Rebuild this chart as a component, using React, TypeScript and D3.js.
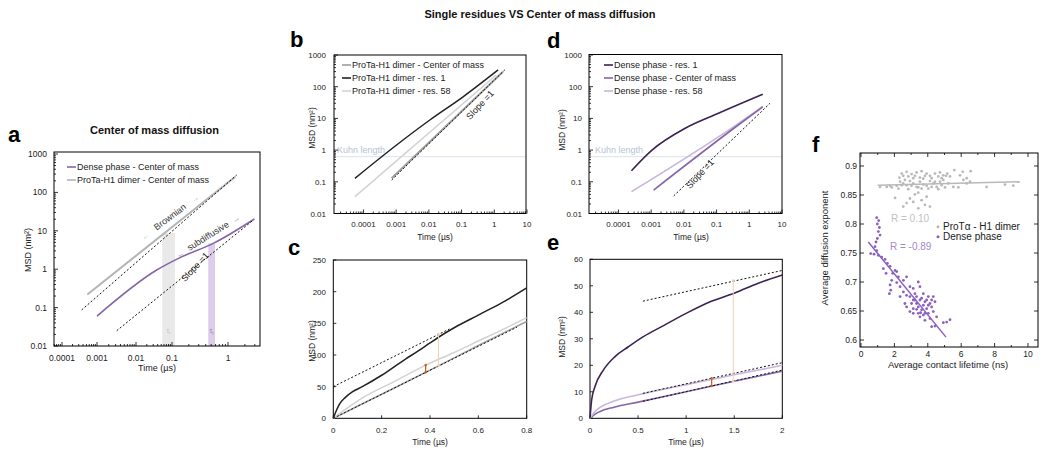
import React from "react";
import * as d3 from "d3";

const FONT = "'Liberation Sans', Arial, Helvetica, sans-serif";

// ---------- shared tick labels
const logTimeTicks = [0.0001, 0.001, 0.01, 0.1, 1, 10];
const logTimeLabels = ["0.0001", "0.001", "0.01", "0.1", "1", "10"];
const logMsdTicks = [0.01, 0.1, 1, 10, 100, 1000];
const logMsdLabels = ["0.01", "0.1", "1", "10", "100", "1000"];
const kuhnLength = 0.62;

// ---------- panel a
const aTimeTicks = [0.0001, 0.001, 0.01, 0.1, 1];
const aTimeLabels = ["0.0001", "0.001", "0.01", "0.1", "1"];
const aDenseComT = [0.001, 0.0376, 0.139, 0.546, 2.95];
const aDenseComMSD = [0.06, 0.95, 2.0, 4.7, 20.3];
const aDimerComT = [0.00053, 1.35];
const aDimerComMSD = [0.22, 257];
const aBrownT = [0.000365, 1.43];
const aBrownMSD = [0.087, 284];
const aSlopeT = [0.0032, 2.83];
const aSlopeMSD = [0.025, 19.1];
const aTauDimer = [0.0537, 0.113, 8.8];
const aTauDense = [0.444, 0.586, 4.7];

// ---------- panel b
const bComT = [0.00073, 1.84];
const bComMSD = [0.129, 297];
const bRes1T = [0.000055, 0.00103, 0.0107, 0.111, 1.31];
const bRes1MSD = [0.129, 1.45, 8.9, 48, 339];
const bRes58T = [0.000055, 1.15];
const bRes58MSD = [0.034, 234];
const bSlopeT = [0.00073, 2.34];
const bSlopeMSD = [0.114, 380];

// ---------- panel d
const dRes1T = [0.00025, 0.00106, 0.011, 0.114, 2.58];
const dRes1MSD = [0.224, 1.0, 4.9, 14.5, 57.5];
const dComT = [0.00119, 0.47, 2.58];
const dComMSD = [0.055, 6.3, 23];
const dRes58T = [0.00025, 0.47, 2.58];
const dRes58MSD = [0.049, 7, 24];
const dSlopeT = [0.0049, 4.3];
const dSlopeMSD = [0.036, 30];

// ---------- panel c
const cTimeTicks = [0, 0.2, 0.4, 0.6, 0.8];
const cMsdTicks = [0, 50, 100, 150, 200, 250];
const cRes1T = [0, 0.01, 0.025, 0.05, 0.08, 0.12, 0.2, 0.3, 0.35, 0.4, 0.435, 0.5, 0.6, 0.7, 0.8];
const cRes1MSD = [0, 10, 22, 33, 42, 50, 68, 94, 106, 119, 128, 143, 163, 183, 206];
const cRes58T = [0, 0.05, 0.124, 0.262, 0.382, 0.5, 0.6, 0.7, 0.8];
const cRes58MSD = [0, 14, 33, 60, 84, 104, 122, 140, 159];
const cComT = [0, 0.2, 0.4, 0.6, 0.8];
const cComMSD = [0, 38, 76, 115, 153];
const cDashUpperT = [0, 0.48];
const cDashUpperMSD = [50, 141];
const cDashLowerT = [0, 0.76];
const cDashLowerMSD = [0, 144];
const cMarkDark = [0.382, 72.6, 84];
const cMarkLight = [0.435, 83, 133];

// ---------- panel e
const eTimeTicks = [0, 0.5, 1, 1.5, 2];
const eMsdTicks = [0, 10, 20, 30, 40, 50, 60];
const eRes1T = [0, 0.017, 0.052, 0.139, 0.26, 0.4, 0.555, 0.745, 1.0, 1.25, 1.5, 1.75, 2.0];
const eRes1MSD = [0, 6.9, 12, 18.2, 23.3, 27, 30.8, 34.6, 39.6, 44, 47.2, 51, 54.1];
const eRes58T = [0, 0.05, 0.1, 0.25, 0.5, 1, 1.5, 2];
const eRes58MSD = [0, 2.5, 4, 6.5, 8.9, 12.7, 16.4, 20];
const eComT = [0, 0.05, 0.1, 0.25, 0.5, 1, 1.5, 2];
const eComMSD = [0, 1.5, 2.5, 4.2, 6.1, 10, 14, 17.8];
const eDashUpperT = [0.55, 2.0];
const eDashUpperMSD = [44.2, 55.8];
const eDashMidT = [0.55, 2.0];
const eDashMidMSD = [9.4, 21];
const eDashLowerT = [0.55, 2.0];
const eDashLowerMSD = [6.4, 18.2];
const eMarkDark = [1.265, 12.2, 15.1];
const eMarkLight = [1.49, 14, 52];

// ---------- panel f
const fXTicks = [0, 2, 4, 6, 8, 10];
const fYTicks = [0.6, 0.65, 0.7, 0.75, 0.8, 0.85, 0.9];
const fYLabels = ["0.6", "0.65", "0.7", "0.75", "0.8", "0.85", "0.9"];
const fDimerPoints = [
  [1.14, 0.864], [1.54, 0.864], [1.84, 0.863], [2.14, 0.866], [2.34, 0.873], [2.44, 0.887], [2.53, 0.87], [2.73, 0.89],
  [2.73, 0.867], [2.83, 0.882], [2.93, 0.874], [3.03, 0.886], [3.13, 0.87], [3.13, 0.879], [3.33, 0.889], [3.33, 0.864],
  [3.53, 0.873], [3.53, 0.88], [3.63, 0.891], [3.73, 0.868], [3.83, 0.883], [3.93, 0.887], [3.93, 0.866], [4.13, 0.883],
  [4.13, 0.874], [4.23, 0.879], [4.33, 0.87], [4.43, 0.887], [4.53, 0.864], [4.63, 0.882], [4.73, 0.889], [4.73, 0.873],
  [4.83, 0.879], [4.93, 0.884], [4.93, 0.876], [5.09, 0.883], [5.17, 0.887], [5.23, 0.87], [5.53, 0.864], [5.59, 0.893],
  [5.83, 0.863], [6.09, 0.89], [6.13, 0.876], [6.33, 0.879], [6.53, 0.873], [6.57, 0.891], [7.52, 0.864], [8.62, 0.868],
  [9.12, 0.866], [2.24, 0.861], [2.83, 0.86], [3.43, 0.863], [4.03, 0.861], [4.63, 0.86], [5.03, 0.863], [2.04, 0.845],
  [2.93, 0.844], [3.23, 0.851], [3.43, 0.854], [3.13, 0.838], [3.63, 0.841], [3.93, 0.847], [2.53, 0.83], [3.43, 0.827],
  [3.83, 0.833], [4.13, 0.83], [2.73, 0.836], [1.74, 0.866], [2.53, 0.883], [3.23, 0.883], [3.73, 0.878], [4.43, 0.873],
  [2.63, 0.876], [2.3, 0.88], [5.33, 0.882], [5.93, 0.884], [3.63, 0.861], [3.03, 0.866], [4.23, 0.864], [4.83, 0.867],
  [6.33, 0.87], [2.44, 0.867],
];
const fDensePoints = [
  [0.94, 0.811], [1.06, 0.806], [0.98, 0.8], [1.1, 0.794], [1.04, 0.787], [1.14, 0.781], [0.98, 0.775], [0.9, 0.769],
  [0.84, 0.761], [0.94, 0.754], [0.58, 0.749], [0.78, 0.748], [1.04, 0.746], [1.24, 0.743], [1.44, 0.739], [1.58, 0.732],
  [1.74, 0.727], [2.04, 0.72], [1.9, 0.715], [2.14, 0.718], [1.84, 0.703], [1.74, 0.695], [1.78, 0.686], [1.7, 0.68],
  [2.14, 0.699], [2.34, 0.692], [2.54, 0.683], [2.34, 0.675], [2.73, 0.677], [2.93, 0.675], [3.13, 0.689], [3.23, 0.669],
  [3.33, 0.663], [3.43, 0.657], [3.53, 0.669], [3.63, 0.652], [3.73, 0.66], [3.83, 0.666], [3.93, 0.654], [4.03, 0.646],
  [4.13, 0.663], [4.23, 0.657], [4.33, 0.649], [4.43, 0.666], [3.13, 0.654], [3.03, 0.663], [3.43, 0.646], [3.53, 0.64],
  [3.73, 0.643], [3.83, 0.634], [3.33, 0.675], [3.63, 0.672], [3.93, 0.669], [4.13, 0.637], [4.53, 0.64], [4.23, 0.623],
  [4.43, 0.624], [4.93, 0.63], [5.13, 0.631], [5.33, 0.635], [2.73, 0.657], [2.93, 0.692], [3.43, 0.7], [3.53, 0.692],
  [2.24, 0.709], [2.54, 0.703], [2.73, 0.709], [1.5, 0.715], [1.34, 0.723], [4.03, 0.675], [4.33, 0.675], [3.23, 0.68],
  [3.83, 0.646], [3.13, 0.646], [2.93, 0.649], [2.63, 0.663], [3.33, 0.653], [3.57, 0.647], [4.03, 0.66], [3.73, 0.68],
  [4.23, 0.669], [3.13, 0.669],
];
const fDimerFit = [[1.0, 0.867], [9.5, 0.873]];
const fDenseFit = [[0.44, 0.769], [5.09, 0.605]];

// ---------- colours
const COL = {
  comGray: "#9d9d9d",
  res1Black: "#222222",
  res58Gray: "#d2d2d2",
  aGray: "#b4b4b4",
  purple: "#8566a8",
  darkPurple: "#3a2353",
  lightPurple: "#c8b6dc",
  kuhn: "#dce3eb",
  kuhnText: "#b5c3d6",
  orangeDark: "#c5612b",
  orangeLight: "#f1cfb4",
  sGray: "#b9b9b9",
  sPurple: "#8a60c0",
  tauGray: "#e9e9e9",
  tauPurple: "#ddcdeb",
};

// ---------- scales
const xALin = d3.scaleLinear().domain([-4.23, -4, -3, -2, -1, 0, 0.57]).range([54, 62, 97, 136, 172, 228, 260]);
const xA = (t: number) => xALin(Math.log10(t));
const yA = d3.scaleLog().domain([0.01, 1000]).range([346, 154]);

const xB = d3.scaleLog().domain([Math.pow(10, -4.9), 10]).range([334, 527]);
const yB = d3.scaleLog().domain([0.01, 1000]).range([213.5, 55]);
const xD = d3.scaleLog().domain([Math.pow(10, -4.9), 10]).range([589, 782]);
const yD = d3.scaleLog().domain([0.01, 1000]).range([213.5, 55]);

const xC = d3.scaleLinear().domain([0, 0.8]).range([333.3, 526.7]);
const yC = d3.scaleLinear().domain([0, 250]).range([418.3, 260]);
const xE = d3.scaleLinear().domain([0, 2]).range([590, 782.3]);
const yE = d3.scaleLinear().domain([0, 60]).range([418.3, 259.3]);

const xF = d3.scaleLinear().domain([0, 10.6]).range([861, 1038]);
const yF = d3.scaleLinear().domain([0.588, 0.9224]).range([347, 153]);

type F = (v: number) => number;

function path(xs: number[], ys: number[], sx: F, sy: F, smooth = true) {
  return (
    d3
      .line<number>()
      .x((_, i) => sx(xs[i]))
      .y((_, i) => sy(ys[i]))
      .curve(smooth ? d3.curveMonotoneX : d3.curveLinear)(xs.map((_, i) => i)) || ""
  );
}

function minorLog(lo: number, hi: number) {
  const out: number[] = [];
  for (let k = -6; k <= 4; k++) for (let m = 2; m <= 9; m++) {
    const v = m * Math.pow(10, k);
    if (v >= lo && v <= hi) out.push(v);
  }
  return out;
}

const Curve = ({ xs, ys, sx, sy, color, w = 1.5, smooth = true }: any) => (
  <path d={path(xs, ys, sx, sy, smooth)} fill="none" stroke={color} strokeWidth={w} strokeLinejoin="round" />
);

const Dashed = ({ xs, ys, sx, sy }: any) => (
  <path d={path(xs, ys, sx, sy, false)} fill="none" stroke="#111" strokeWidth={1} strokeDasharray="2,2" />
);

function Frame({ x0, x1, y0, y1 }: any) {
  return <rect x={x0} y={y0} width={x1 - x0} height={y1 - y0} fill="none" stroke="#000" strokeWidth={1} />;
}

function YTitle({ x, y, text, size = 8.5 }: any) {
  return (
    <text transform={`translate(${x},${y}) rotate(-90)`} textAnchor="middle" dy="0.35em" fontSize={size} fill="#222">
      {text}
    </text>
  );
}

function LogPanel({ sx, sy, x0, x1, y0, y1, xTicks, xLabels, xLabelY, yLabelX, titleY, xTitleX, yTitleX, yTitleY, lo, hi }: any) {
  const minX = minorLog(lo, hi);
  const minY = minorLog(0.01, 1000);
  return (
    <g>
      <Frame x0={x0} x1={x1} y0={y0} y1={y1} />
      {minX.map((v: number, i: number) => (
        <line key={"mx" + i} x1={sx(v)} x2={sx(v)} y1={y1} y2={y1 - 2} stroke="#000" strokeWidth={0.8} />
      ))}
      {xTicks.map((v: number, i: number) => (
        <line key={"Mx" + i} x1={sx(v)} x2={sx(v)} y1={y1} y2={y1 - 4} stroke="#000" strokeWidth={0.8} />
      ))}
      {minY.map((v: number, i: number) => (
        <line key={"my" + i} x1={x0} x2={x0 + 2} y1={sy(v)} y2={sy(v)} stroke="#000" strokeWidth={0.8} />
      ))}
      {logMsdTicks.map((v, i) => (
        <line key={"My" + i} x1={x0} x2={x0 + 4} y1={sy(v)} y2={sy(v)} stroke="#000" strokeWidth={0.8} />
      ))}
      {xTicks.map((v: number, i: number) => (
        <text key={"lx" + i} x={sx(v)} y={xLabelY} textAnchor="middle" fontSize={8} fill="#222">{xLabels[i]}</text>
      ))}
      {logMsdTicks.map((v, i) => (
        <text key={"ly" + i} x={yLabelX} y={sy(v) + 3} textAnchor="end" fontSize={8} fill="#222">{logMsdLabels[i]}</text>
      ))}
      <text x={xTitleX} y={titleY} textAnchor="middle" fontSize={8.5} fill="#222">Time (µs)</text>
      <YTitle x={yTitleX} y={yTitleY} text="MSD (nm²)" />
    </g>
  );
}

function LinPanel({ sx, sy, x0, x1, y0, y1, xTicks, yTicks, xLabelY, yLabelX, titleY, xTitleX, yTitleX, yTitleY }: any) {
  return (
    <g>
      <Frame x0={x0} x1={x1} y0={y0} y1={y1} />
      {xTicks.map((v: number, i: number) => (
        <g key={"x" + i}>
          <line x1={sx(v)} x2={sx(v)} y1={y1} y2={y1 - 3} stroke="#000" strokeWidth={0.8} />
          <text x={sx(v)} y={xLabelY} textAnchor="middle" fontSize={8} fill="#222">{String(v)}</text>
        </g>
      ))}
      {yTicks.map((v: number, i: number) => (
        <g key={"y" + i}>
          <line x1={x0} x2={x0 + 3} y1={sy(v)} y2={sy(v)} stroke="#000" strokeWidth={0.8} />
          <text x={yLabelX} y={sy(v) + 3} textAnchor="end" fontSize={8} fill="#222">{String(v)}</text>
        </g>
      ))}
      <text x={xTitleX} y={titleY} textAnchor="middle" fontSize={8.5} fill="#222">Time (µs)</text>
      <YTitle x={yTitleX} y={yTitleY} text="MSD (nm²)" />
    </g>
  );
}

function Legend({ x, ys, items }: any) {
  return (
    <g>
      {items.map((it: any, i: number) => (
        <g key={i}>
          <line x1={x} x2={x + 9} y1={ys[i]} y2={ys[i]} stroke={it.color} strokeWidth={1.6} />
          <text x={x + 10} y={ys[i] + 3} fontSize={9} fill="#222">{it.label}</text>
        </g>
      ))}
    </g>
  );
}

function Marker({ sx, sy, m, color, w }: any) {
  const x = sx(m[0]);
  return (
    <g>
      <line x1={x} x2={x} y1={sy(m[1])} y2={sy(m[2])} stroke={color} strokeWidth={w} />
      <circle cx={x} cy={sy(m[1])} r={1.3} fill={color} />
      <circle cx={x} cy={sy(m[2])} r={1.3} fill={color} />
    </g>
  );
}

function PanelA() {
  const minX: number[] = [];
  for (let k = -5; k <= 0; k++) for (let m = 2; m <= 9; m++) {
    const v = m * Math.pow(10, k);
    const l = Math.log10(v);
    if (l >= -4.23 && l <= 0.57) minX.push(v);
  }
  const minY = minorLog(0.01, 1000);
  return (
    <g>
      <text x={154.5} y={134} textAnchor="middle" fontSize={11} fontWeight="bold" fill="#111">Center of mass diffusion</text>
      <rect x={xA(aTauDimer[0])} y={yA(aTauDimer[2])} width={xA(aTauDimer[1]) - xA(aTauDimer[0])} height={yA(0.01) - yA(aTauDimer[2])} fill={COL.tauGray} />
      <rect x={xA(aTauDense[0])} y={yA(aTauDense[2])} width={xA(aTauDense[1]) - xA(aTauDense[0])} height={yA(0.01) - yA(aTauDense[2])} fill={COL.tauPurple} />
      <text x={(xA(aTauDimer[0]) + xA(aTauDimer[1])) / 2} y={333} textAnchor="middle" fontSize={7} fill="#c4c4c4">τ<tspan fontSize={5} dy={1.5}>r</tspan></text>
      <text x={(xA(aTauDense[0]) + xA(aTauDense[1])) / 2} y={333} textAnchor="middle" fontSize={7} fill="#9b80bd">τ<tspan fontSize={5} dy={1.5}>r</tspan></text>
      <Frame x0={54} x1={260} y0={152} y1={346} />
      {minX.map((v, i) => (
        <line key={"mx" + i} x1={xA(v)} x2={xA(v)} y1={346} y2={344} stroke="#000" strokeWidth={0.8} />
      ))}
      {aTimeTicks.map((v, i) => (
        <line key={"Mx" + i} x1={xA(v)} x2={xA(v)} y1={346} y2={342} stroke="#000" strokeWidth={0.8} />
      ))}
      {minY.map((v, i) => (
        <line key={"my" + i} x1={54} x2={56} y1={yA(v)} y2={yA(v)} stroke="#000" strokeWidth={0.8} />
      ))}
      {logMsdTicks.map((v, i) => (
        <line key={"My" + i} x1={54} x2={58} y1={yA(v)} y2={yA(v)} stroke="#000" strokeWidth={0.8} />
      ))}
      {aTimeTicks.map((v, i) => (
        <text key={"lx" + i} x={xA(v)} y={361} textAnchor="middle" fontSize={8.5} fill="#222">{aTimeLabels[i]}</text>
      ))}
      {logMsdTicks.map((v, i) => (
        <text key={"ly" + i} x={47} y={yA(v) + 3} textAnchor="end" fontSize={8.5} fill="#222">{logMsdLabels[i]}</text>
      ))}
      <text x={157} y={371} textAnchor="middle" fontSize={9} fill="#222">Time (µs)</text>
      <YTitle x={28} y={250} text="MSD (nm²)" size={9} />

      <Curve xs={aDimerComT} ys={aDimerComMSD} sx={xA} sy={yA} color={COL.aGray} w={2} smooth={false} />
      <Dashed xs={aBrownT} ys={aBrownMSD} sx={xA} sy={yA} />
      <Curve xs={aDenseComT} ys={aDenseComMSD} sx={xA} sy={yA} color={COL.purple} w={1.6} />
      <Dashed xs={aSlopeT} ys={aSlopeMSD} sx={xA} sy={yA} />

      <g transform="translate(170,217) rotate(-37)">
        <text x={0} y={3} textAnchor="middle" fontSize={9} fill="#333">Brownian</text>
        <text x={-31} y={3} textAnchor="middle" fontSize={8} fill="#bdbdbd">←</text>
        <text x={31} y={3} textAnchor="middle" fontSize={8} fill="#bdbdbd">→</text>
      </g>
      <g transform="translate(208,236) rotate(-32)">
        <text x={0} y={3} textAnchor="middle" fontSize={9} fill="#333">subdiffusive</text>
        <text x={-33} y={3} textAnchor="middle" fontSize={8} fill="#9a7fc0">←</text>
        <text x={33} y={3} textAnchor="middle" fontSize={8} fill="#9a7fc0">→</text>
      </g>
      <text transform="translate(195,267) rotate(-47)" x={0} y={3} textAnchor="middle" fontSize={9} fill="#222">Slope =1</text>

      <Legend x={67} ys={[167, 180]} items={[
        { color: COL.purple, label: "Dense phase - Center of mass" },
        { color: COL.aGray, label: "ProTa-H1 dimer - Center of mass" },
      ]} />
    </g>
  );
}

function PanelB() {
  return (
    <g>
      <line x1={334} x2={526} y1={yB(kuhnLength)} y2={yB(kuhnLength)} stroke={COL.kuhn} strokeWidth={1} />
      <text x={337} y={yB(kuhnLength) - 4} fontSize={9} fill={COL.kuhnText}>Kuhn length</text>
      <LogPanel sx={xB} sy={yB} x0={334} x1={526} y0={55} y1={213.5} xTicks={logTimeTicks} xLabels={logTimeLabels}
        xLabelY={227} yLabelX={326} titleY={240} xTitleX={435} yTitleX={312} yTitleY={128} lo={Math.pow(10, -4.9)} hi={10} />
      <Curve xs={bRes58T} ys={bRes58MSD} sx={xB} sy={yB} color={COL.res58Gray} w={1.5} />
      <Curve xs={bComT} ys={bComMSD} sx={xB} sy={yB} color={COL.comGray} w={2} />
      <Dashed xs={bSlopeT} ys={bSlopeMSD} sx={xB} sy={yB} />
      <Curve xs={bRes1T} ys={bRes1MSD} sx={xB} sy={yB} color={COL.res1Black} w={1.5} />
      <text transform="translate(480,105) rotate(-47)" x={0} y={3} textAnchor="middle" fontSize={9} fill="#222">Slope =1</text>
      <Legend x={342} ys={[65, 78, 91]} items={[
        { color: COL.comGray, label: "ProTa-H1 dimer - Center of mass" },
        { color: COL.res1Black, label: "ProTa-H1 dimer - res. 1" },
        { color: COL.res58Gray, label: "ProTa-H1 dimer - res. 58" },
      ]} />
    </g>
  );
}

function PanelD() {
  return (
    <g>
      <line x1={589} x2={782} y1={yD(kuhnLength)} y2={yD(kuhnLength)} stroke={COL.kuhn} strokeWidth={1} />
      <text x={595} y={yD(kuhnLength) - 4} fontSize={9} fill={COL.kuhnText}>Kuhn length</text>
      <LogPanel sx={xD} sy={yD} x0={589} x1={782} y0={54.5} y1={213.5} xTicks={logTimeTicks} xLabels={logTimeLabels}
        xLabelY={227} yLabelX={582} titleY={240} xTitleX={691} yTitleX={562} yTitleY={130} lo={Math.pow(10, -4.9)} hi={10} />
      <Dashed xs={dSlopeT} ys={dSlopeMSD} sx={xD} sy={yD} />
      <Curve xs={dRes58T} ys={dRes58MSD} sx={xD} sy={yD} color={COL.lightPurple} w={1.6} />
      <Curve xs={dComT} ys={dComMSD} sx={xD} sy={yD} color={COL.purple} w={1.6} />
      <Curve xs={dRes1T} ys={dRes1MSD} sx={xD} sy={yD} color={COL.darkPurple} w={1.6} />
      <text transform="translate(700,174) rotate(-47)" x={0} y={3} textAnchor="middle" fontSize={9} fill="#222">Slope =1</text>
      <Legend x={604} ys={[65, 78, 91]} items={[
        { color: COL.darkPurple, label: "Dense phase - res. 1" },
        { color: COL.purple, label: "Dense phase - Center of mass" },
        { color: COL.lightPurple, label: "Dense phase - res. 58" },
      ]} />
    </g>
  );
}

function PanelC() {
  return (
    <g>
      <LinPanel sx={xC} sy={yC} x0={333.3} x1={526.7} y0={260} y1={418.3} xTicks={cTimeTicks} yTicks={cMsdTicks}
        xLabelY={433} yLabelX={326} titleY={445} xTitleX={430} yTitleX={312.5} yTitleY={341} />
      <Curve xs={cComT} ys={cComMSD} sx={xC} sy={yC} color={COL.comGray} w={1.5} />
      <Curve xs={cRes58T} ys={cRes58MSD} sx={xC} sy={yC} color={COL.res58Gray} w={1.5} />
      <Curve xs={cRes1T} ys={cRes1MSD} sx={xC} sy={yC} color={COL.res1Black} w={1.5} />
      <Dashed xs={cDashUpperT} ys={cDashUpperMSD} sx={xC} sy={yC} />
      <Dashed xs={cDashLowerT} ys={cDashLowerMSD} sx={xC} sy={yC} />
      <Marker sx={xC} sy={yC} m={cMarkLight} color={COL.orangeLight} w={1} />
      <Marker sx={xC} sy={yC} m={cMarkDark} color={COL.orangeDark} w={1.3} />
    </g>
  );
}

function PanelE() {
  return (
    <g>
      <LinPanel sx={xE} sy={yE} x0={590} x1={782.3} y0={259.3} y1={418.3} xTicks={eTimeTicks} yTicks={eMsdTicks}
        xLabelY={433} yLabelX={583} titleY={445} xTitleX={686} yTitleX={562} yTitleY={337} />
      <Curve xs={eComT} ys={eComMSD} sx={xE} sy={yE} color={COL.purple} w={1.6} />
      <Curve xs={eRes58T} ys={eRes58MSD} sx={xE} sy={yE} color={COL.lightPurple} w={1.6} />
      <Curve xs={eRes1T} ys={eRes1MSD} sx={xE} sy={yE} color={COL.darkPurple} w={1.6} />
      <Dashed xs={eDashUpperT} ys={eDashUpperMSD} sx={xE} sy={yE} />
      <Dashed xs={eDashMidT} ys={eDashMidMSD} sx={xE} sy={yE} />
      <Dashed xs={eDashLowerT} ys={eDashLowerMSD} sx={xE} sy={yE} />
      <Marker sx={xE} sy={yE} m={eMarkLight} color={COL.orangeLight} w={1} />
      <Marker sx={xE} sy={yE} m={eMarkDark} color={COL.orangeDark} w={1.3} />
    </g>
  );
}

function PanelF() {
  const xMinor = d3.range(0, 11, 1);
  const fitLine = d3.line<number[]>().x((d) => xF(d[0])).y((d) => yF(d[1]));
  return (
    <g>
      <Frame x0={860} x1={1038} y0={153} y1={347} />
      {xMinor.map((v, i) => (
        <g key={"fx" + i}>
          <line x1={xF(v)} x2={xF(v)} y1={347} y2={v % 2 === 0 ? 343 : 345} stroke="#000" strokeWidth={0.8} />
          <line x1={xF(v)} x2={xF(v)} y1={153} y2={v % 2 === 0 ? 157 : 155} stroke="#000" strokeWidth={0.8} />
        </g>
      ))}
      {fXTicks.map((v, i) => (
        <text key={"fxl" + i} x={xF(v)} y={356.5} textAnchor="middle" fontSize={8.5} fill="#222">{String(v)}</text>
      ))}
      {fYTicks.map((v, i) => (
        <g key={"fy" + i}>
          <line x1={860} x2={864} y1={yF(v)} y2={yF(v)} stroke="#000" strokeWidth={0.8} />
          <line x1={1038} x2={1034} y1={yF(v)} y2={yF(v)} stroke="#000" strokeWidth={0.8} />
          <text x={857} y={yF(v) + 3} textAnchor="end" fontSize={8.5} fill="#222">{fYLabels[i]}</text>
        </g>
      ))}
      <text x={948} y={368} textAnchor="middle" fontSize={9.5} fill="#222">Average contact lifetime (ns)</text>
      <YTitle x={825} y={248} text="Average diffusion exponent" size={9.5} />

      {fDimerPoints.map((p, i) => (
        <circle key={"g" + i} cx={xF(p[0])} cy={yF(p[1])} r={1.4} fill={COL.sGray} />
      ))}
      {fDensePoints.map((p, i) => (
        <circle key={"p" + i} cx={xF(p[0])} cy={yF(p[1])} r={1.4} fill={COL.sPurple} />
      ))}
      <path d={fitLine(fDimerFit) || ""} stroke={COL.sGray} strokeWidth={1.5} fill="none" />
      <path d={fitLine(fDenseFit) || ""} stroke={COL.sPurple} strokeWidth={1.5} fill="none" />

      <text x={891} y={222} fontSize={10} fill="#c2c2c2">R = 0.10</text>
      <text x={890} y={249.5} fontSize={10} fill="#a488cc">R = -0.89</text>
      <circle cx={938} cy={226.7} r={1.5} fill={COL.sGray} />
      <text x={943} y={230} fontSize={10} fill="#222">ProTα - H1 dimer</text>
      <circle cx={938} cy={236.7} r={1.5} fill={COL.sPurple} />
      <text x={943} y={240} fontSize={10} fill="#222">Dense phase</text>
    </g>
  );
}

export default function App() {
  const letters = [
    { t: "a", x: 8, y: 142 },
    { t: "b", x: 290, y: 47 },
    { t: "c", x: 288, y: 255 },
    { t: "d", x: 547, y: 48 },
    { t: "e", x: 547, y: 250 },
    { t: "f", x: 812, y: 152 },
  ];
  return (
    <div style={{ position: "absolute", left: 0, top: 0 }}>
      <svg width={1050} height={456} style={{ display: "block" }} fontFamily={FONT}>
        <rect x={0} y={0} width={1050} height={456} fill="#fff" />
        <text x={540} y={18} textAnchor="middle" fontSize={11} fontWeight="bold" fill="#111">
          Single residues VS Center of mass diffusion
        </text>
        {letters.map((l) => (
          <text key={l.t} x={l.x} y={l.y} fontSize={22} fontWeight="bold" fill="#000">{l.t}</text>
        ))}
        <PanelA />
        <PanelB />
        <PanelC />
        <PanelD />
        <PanelE />
        <PanelF />
      </svg>
    </div>
  );
}
